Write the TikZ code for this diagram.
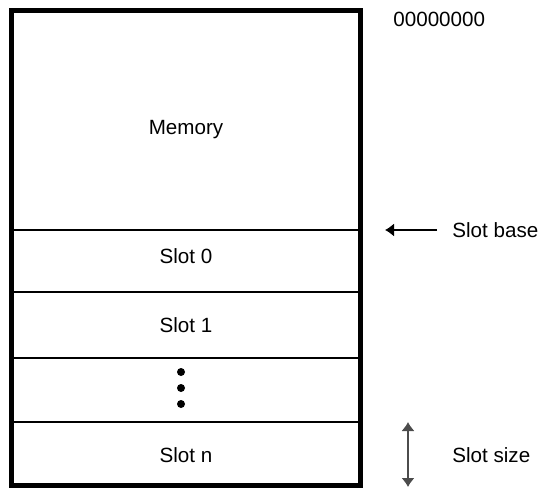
\documentclass[tikz,border=0pt]{standalone}
\usepackage{fontspec}
\setmainfont{Liberation Sans}
\usetikzlibrary{positioning}
\usetikzlibrary{calc}
\usetikzlibrary{arrows.meta}

\begin{document}
\begin{tikzpicture} [x=0.5pt, y=-0.5pt, font=\fontsize{10.3}{12}\selectfont, >={Latex[length=4.5pt, width=6.5pt]}]
    % Memory layout with slots, pixel-like units with y pointing down
    \useasboundingbox (0,0) rectangle (540,487);
    \tikzset{slotbox/.style={draw, rectangle, line width=1pt, minimum width=173.75pt, inner sep=0pt},
             sidetext/.style={anchor=west, inner sep=0pt}}

    \node (Mem) [slotbox, minimum height=109pt] at (186, 120.5) {};
    \node (MemText) at (186, 130) {Memory};
    \node (S0) [slotbox, minimum height=31.25pt] at (186, 260.75) {};
    \node (S0Text) at (186, 256) {Slot 0};
    \node (S1) [slotbox, minimum height=33pt] at (186, 325) {Slot 1};
    \node (SD) [slotbox, minimum height=32pt] at (186, 390) {};
    \node (SN) [slotbox, minimum height=31pt] at (186, 453) {};
    \node (SNText) at (186, 455) {Slot n};
    \draw[line width=2.5pt] (Mem.north west) rectangle (SN.south east);

    % dots in the gap slot
    \foreach \y in {-18, -2, 14} \fill ($(SD.center) + (-5, \y)$) circle (2pt);

    \node (Addr) [sidetext] at (393, 19) {00000000};
    \node (SB) [sidetext] at (452, 230) {Slot base};
    \node (SS) [sidetext] at (452, 455) {Slot size};

    \coordinate (SBtail) at (437, 230);
    \coordinate (SBhead) at (385, 230);
    \coordinate (SStop) at (408, 422);
    \coordinate (SSbot) at (408, 487);

    \draw[->, line width=0.6pt] (SBtail) -- (SBhead);
    \draw[<->, line width=0.6pt, draw=black!70, fill=black] (SStop) -- (SSbot);

\end{tikzpicture}
\end{document}
